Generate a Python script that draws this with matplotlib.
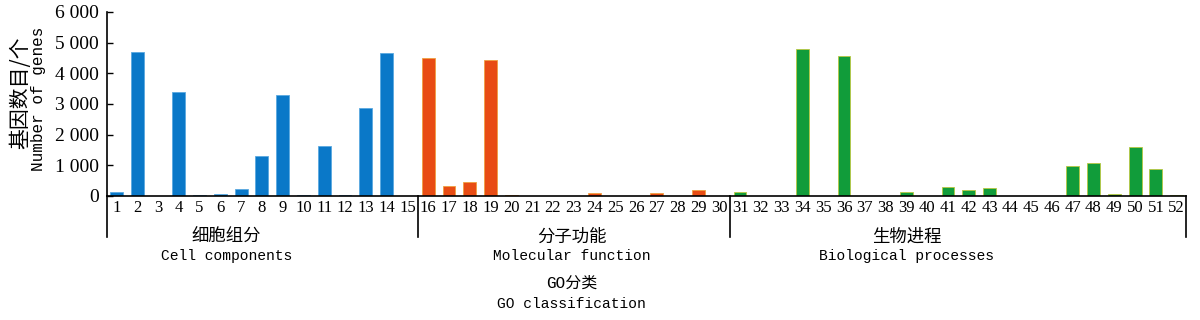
import matplotlib.pyplot as plt
from matplotlib.ticker import FuncFormatter
import numpy as np

# GO term index and gene counts per term
terms = list(range(1, 53))
cell_counts = [120, 4680, 5, 3380, 20, 80, 230, 1300, 3300, 20, 1640, 20, 2860, 4650, 10]
mol_counts = [4510, 330, 450, 4430, 30, 10, 0, 0, 100, 5, 10, 110, 0, 185, 0]
bio_counts = [130, 0, 10, 4780, 5, 4580, 5, 0, 130, 0, 300, 205, 250, 10, 0, 5,
              980, 1080, 75, 1610, 875, 45]

groups_cn = ['细胞组分', '分子功能', '生物进程']
groups_en = ['Cell components', 'Molecular function', 'Biological processes']
colors = ['#0a78c8', '#e84c14', '#119c3a']
edges = ['#5aa8e0', '#f0a040', '#b8c840']

cjk = ['Noto Sans CJK SC', 'DejaVu Sans']
serif = 'Liberation Serif'
mono = 'Liberation Mono'

fig = plt.figure(figsize=(12, 3.2), dpi=100)
ax = fig.add_axes([107 / 1200, 1 - 196 / 320, (1186 - 107) / 1200, 184 / 320])

start = 0
for counts, c, ec in zip([cell_counts, mol_counts, bio_counts], colors, edges):
    xs = terms[start:start + len(counts)]
    ax.bar(xs, counts, width=0.62, color=c, edgecolor=ec, linewidth=0.6)
    start += len(counts)

ax.set_xlim(0.55, 52.45)
ax.set_ylim(0, 6000)
ax.set_yticks(range(0, 6001, 1000))
ax.yaxis.set_major_formatter(FuncFormatter(lambda v, p: f'{int(v):,}'.replace(',', ' ')))
ax.set_xticks(terms)
ax.set_xticklabels([str(t) for t in terms], fontfamily=serif, fontsize=12)
for lab in ax.get_yticklabels():
    lab.set_fontfamily(serif)
    lab.set_fontsize(14)
ax.tick_params(axis='x', length=0, pad=3)
ax.tick_params(axis='y', direction='in', length=4, width=1, pad=6)

ax.spines['top'].set_visible(False)
ax.spines['right'].set_visible(False)
ax.spines['left'].set_linewidth(1.2)
ax.spines['bottom'].set_linewidth(1.2)

# group divider lines below the axis
tr = ax.get_xaxis_transform()
for xd in [0.55, 15.5, 30.5, 52.45]:
    ax.plot([xd, xd], [0, -0.225], transform=tr, color='black', lw=1.2, clip_on=False)

label_x = [6.3, 22.9, 39.0]
for x, cn, en in zip(label_x, groups_cn, groups_en):
    ax.text(x, -0.22, cn, transform=tr, ha='center', va='center', fontsize=12.5, family=cjk)
    ax.text(x, -0.325, en, transform=tr, ha='center', va='center', fontsize=10.5, family=mono)

ax.text(22.9, -0.475, 'GO分类', transform=tr, ha='center', va='center', fontsize=11.5,
        family=['Liberation Mono', 'Noto Sans CJK SC'])
ax.text(22.9, -0.585, 'GO classification', transform=tr, ha='center', va='center',
        fontsize=10.5, family=mono)

fig.text(0.0167, 0.71, '基因数目/个', rotation=90, ha='center', va='center', fontsize=15, family=cjk)
fig.text(0.0317, 0.69, 'Number of genes', rotation=90, ha='center', va='center', fontsize=11.5,
         family=mono)

fig.savefig('out.png', dpi=100)
